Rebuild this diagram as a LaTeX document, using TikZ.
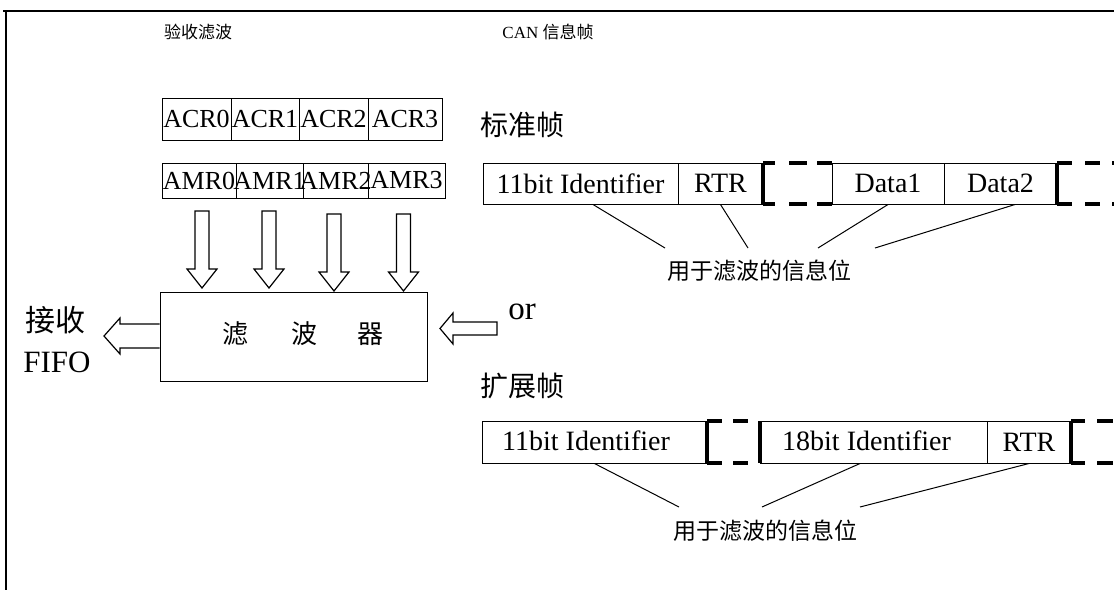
\documentclass[tikz,border=0pt]{standalone}
\usepackage{fontspec}
\setmainfont{Liberation Serif}
\newfontfamily\cjk{Noto Sans CJK SC}
\tikzset{
  cell/.style={draw, line width=1pt, inner sep=0pt},
  txt/.style={inner sep=0pt, font=\fontsize{26}{30}\selectfont},
  ftxt/.style={inner sep=0pt, font=\fontsize{28}{32}\selectfont},
  cjksmall/.style={inner sep=0pt, font=\cjk\fontsize{17}{20}\selectfont},
  cjkmid/.style={inner sep=0pt, font=\cjk\fontsize{23}{28}\selectfont},
  cjkfilt/.style={inner sep=0pt, font=\cjk\fontsize{26}{30}\selectfont},
  cjkbig/.style={inner sep=0pt, font=\cjk\fontsize{28}{32}\selectfont},
  thickseg/.style={line width=3.5pt},
  leader/.style={line width=1pt},
  hollow/.style={draw, line width=1.2pt, fill=white, line join=miter},
}
\newcommand\hdown[3]{%
  \draw[hollow] (#1-7,#2) -- (#1+7,#2) -- (#1+7,#3-19) -- (#1+15,#3-19) -- (#1,#3) -- (#1-15,#3-19) -- (#1-7,#3-19) -- cycle;}
\begin{document}
\begin{tikzpicture}[x=1pt,y=-1pt]
\useasboundingbox (0,0) rectangle (1114,590);
% frame
\draw[line width=1.5pt] (3,11) -- (1114,11);
\draw[line width=1.5pt] (6,11) -- (6,590);
% titles
\node[cjksmall] (t1) at (198,32) {验收滤波};
\node[inner sep=0pt, font=\fontsize{17}{20}\selectfont] (t2) at (548,32) {CAN {\cjk 信息帧}};
% ACR row
\node[cell, minimum width=69pt, minimum height=42pt, label={[txt]center:ACR0}] (acr0) at (196.5,119) {};
\node[cell, minimum width=68pt, minimum height=42pt, label={[txt]center:ACR1}] (acr1) at (265,119) {};
\node[cell, minimum width=69pt, minimum height=42pt, label={[txt]center:ACR2}] (acr2) at (333.5,119) {};
\node[cell, minimum width=74pt, minimum height=42pt, label={[txt]center:ACR3}] (acr3) at (405,119) {};
% AMR row
\node[cell, minimum width=74pt, minimum height=35pt, label={[txt]center:AMR0}] (amr0) at (199,180.5) {};
\node[cell, minimum width=67pt, minimum height=35pt, label={[txt]center:AMR1}] (amr1) at (269.5,180.5) {};
\node[cell, minimum width=65pt, minimum height=35pt, label={[txt]center:AMR2}] (amr2) at (335.5,180.5) {};
\node[cell, minimum width=77pt, minimum height=35pt, label={[txt]center:AMR3}] (amr3) at (406.5,180.5) {};
% down arrows
\hdown{202}{211}{288}
\hdown{269}{211}{288}
\hdown{334}{214}{291}
\hdown{403.5}{214}{291}
% filter box
\node[cell, minimum width=267pt, minimum height=89pt] (filt) at (293.5,336.5) {};
\node[cjkfilt] (f1) at (235,334) {滤};
\node[cjkfilt] (f2) at (304,334) {波};
\node[cjkfilt] (f3) at (370,334) {器};
% left arrow to FIFO
\draw[hollow] (filt.west |- 0,324) -- (120,324) -- (120,318) -- (104,336) -- (120,354) -- (120,348) -- (filt.west |- 0,348);
\node[inner sep=0pt, font=\cjk\fontsize{30}{34}\selectfont] (rx) at (55,320) {接收};
\node[inner sep=0pt, font=\fontsize{31}{34}\selectfont] (fifo) at (57,362) {FIFO};
% right arrow from frames
\draw[hollow] (497,322) -- (453,322) -- (453,313) -- (440,328.5) -- (453,344) -- (453,335) -- (497,335) -- cycle;
\node[inner sep=0pt, font=\fontsize{33}{36}\selectfont] (or) at (522,312) {or};
% standard frame
\node[cjkbig] (std) at (522,125) {标准帧};
\node[cell, minimum width=195pt, minimum height=41pt, label={[ftxt]center:11bit Identifier}] (sid) at (580.5,183.5) {};
\node[cell, minimum width=85pt, minimum height=41pt, label={[ftxt]center:RTR}] (srtr) at (720.5,183.5) {};
\node[cell, minimum width=112pt, minimum height=41pt, label={[ftxt]center:Data1}] (sd1) at (888,183.5) {};
\node[cell, minimum width=113pt, minimum height=41pt, label={[ftxt]center:Data2}] (sd2) at (1000.5,183.5) {};
% dashed gaps standard
\draw[thickseg] (763,163) -- (763,204);
\foreach \y in {163,204} {
  \draw[thickseg] (763,\y) -- (775,\y);
  \draw[thickseg] (789,\y) -- (807,\y);
  \draw[thickseg] (817,\y) -- (832,\y);
  \draw[thickseg] (1057,\y) -- (1072,\y);
  \draw[thickseg] (1085,\y) -- (1100,\y);
  \draw[thickseg] (1112,\y) -- (1114,\y);
}
\draw[thickseg] (1057,163) -- (1057,204);
% leaders standard
\coordinate (sl1) at (665,248);
\coordinate (sl2) at (748,248);
\coordinate (sl3) at (818,248);
\coordinate (sl4) at (875,248);
\draw[leader] ([xshift=12.5pt]sid.south) -- (sl1);
\draw[leader] (srtr.south) -- (sl2);
\draw[leader] (sd1.south) -- (sl3);
\draw[leader] ([xshift=14.5pt]sd2.south) -- (sl4);
\node[cjkmid] (sinfo) at (759,271) {用于滤波的信息位};
% extended frame
\node[cjkbig] (ext) at (522,386) {扩展帧};
\node[cell, minimum width=225pt, minimum height=42pt] (eid) at (594.5,442) {};
\node[ftxt, anchor=west] (eidt) at (502,441) {11bit Identifier};
\node[cell, minimum width=227pt, minimum height=42pt] (eid18) at (873.5,442) {};
\node[ftxt, anchor=west] (eid18t) at (782,441) {18bit Identifier};
\node[cell, minimum width=84pt, minimum height=42pt, label={[ftxt]center:RTR}] (ertr) at (1029,442) {};
% dashed gaps extended
\draw[thickseg] (707,421) -- (707,463);
\draw[thickseg] (760,421) -- (760,463);
\draw[thickseg] (1071,421) -- (1071,463);
\foreach \y in {421,463} {
  \draw[thickseg] (707,\y) -- (722,\y);
  \draw[thickseg] (733,\y) -- (748,\y);
  \draw[thickseg] (1071,\y) -- (1085,\y);
  \draw[thickseg] (1097,\y) -- (1113,\y);
}
% leaders extended
\coordinate (el1) at (679,507);
\coordinate (el2) at (762,507);
\coordinate (el3) at (860,507);
\draw[leader] (eid.south) -- (el1);
\draw[leader] ([xshift=-13.5pt]eid18.south) -- (el2);
\draw[leader] (ertr.south) -- (el3);
\node[cjkmid] (einfo) at (765,531) {用于滤波的信息位};
\end{tikzpicture}
\end{document}
